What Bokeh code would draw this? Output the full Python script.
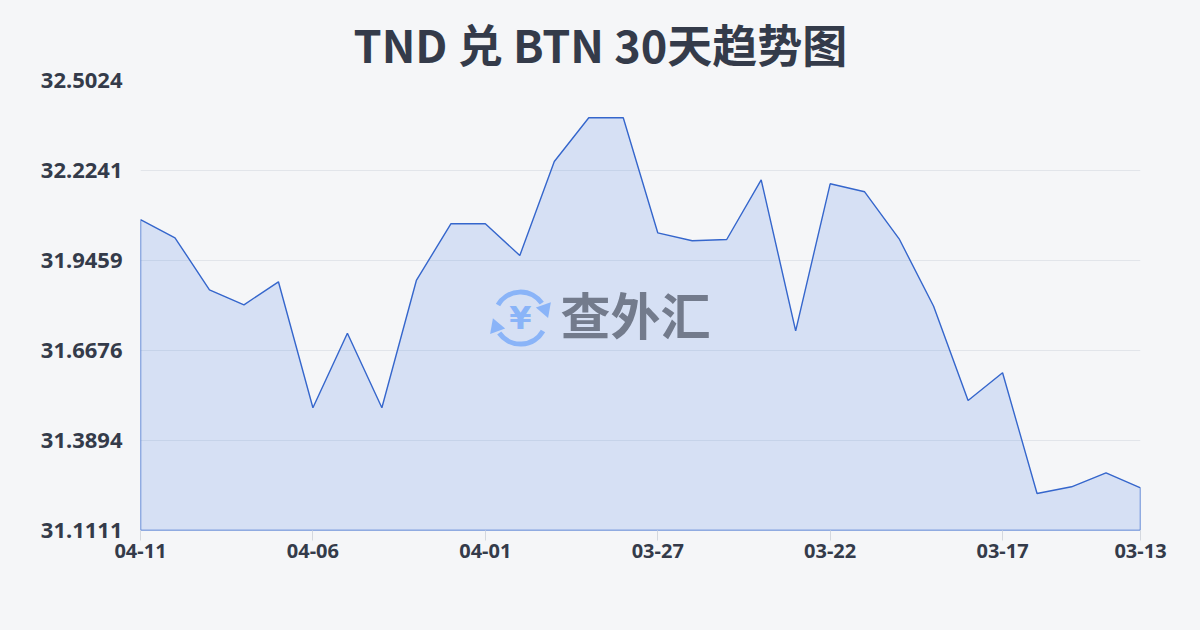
import math
from bokeh.plotting import figure
from bokeh.models import Range1d, FixedTicker, PrintfTickFormatter
from bokeh.core.properties import value
from bokeh.embed import file_html
from bokeh.resources import INLINE

# ---- data ----
dates = ["04-11", "04-10", "04-09", "04-08", "04-07", "04-06", "04-05", "04-04",
         "04-03", "04-02", "04-01", "03-31", "03-30", "03-29", "03-28", "03-27",
         "03-26", "03-25", "03-24", "03-23", "03-22", "03-21", "03-20", "03-19",
         "03-18", "03-17", "03-16", "03-15", "03-14", "03-13"]
rates = [32.0726, 32.0161, 31.8553, 31.8089, 31.8800, 31.4905, 31.7211, 31.4905,
         31.8841, 32.0594, 32.0594, 31.9613, 32.2520, 32.3871, 32.3871, 32.0315,
         32.0068, 32.0108, 32.1954, 31.7285, 32.1830, 32.1583, 32.0130, 31.8046,
         31.5130, 31.5987, 31.2255, 31.2462, 31.2895, 31.2431]
y_ticks = [31.1111, 31.3894, 31.6676, 31.9459, 32.2241, 32.5024]
x_tick_idx = [0, 5, 10, 15, 20, 25, 29]
title_text = "TND 兑 BTN 30天趋势图"
watermark = "查外汇"

BG = "#f5f6f8"
LINE = "#3566cc"
TEXT = "#343b4a"

n = len(rates)
xs = list(range(n))
y0, y1 = y_ticks[0], y_ticks[-1]

FW, FH = 1000, 450
p = figure(frame_width=FW, frame_height=FH,
           min_border_left=140, min_border_right=60,
           min_border_top=80, min_border_bottom=100,
           x_range=Range1d(0, n - 1), y_range=Range1d(y0, y1),
           output_backend="svg", toolbar_location=None,
           background_fill_color=BG, border_fill_color=BG,
           outline_line_color=None, title=title_text)

p.title.align = "left"
p.title.offset = 213
p.title.text_font = "Noto Sans CJK SC"
p.title.text_font_style = "bold"
p.title.text_font_size = "45px"
p.title.text_color = TEXT
p.title.standoff = 10

xr = (n - 1)
yr = (y1 - y0)
ppx = FW / xr          # pixels per x unit
ppy = FH / yr          # pixels per y unit

# area
p.patch(xs + [n - 1, 0], rates + [y0, y0], fill_color="#5b8ae6", fill_alpha=0.2,
        line_color=LINE, line_width=1.4)

# axes
p.xaxis.ticker = FixedTicker(ticks=x_tick_idx)
p.xaxis.major_label_overrides = {i: dates[i] for i in x_tick_idx}
p.xaxis.major_label_text_font = "Noto Sans"
p.xaxis.major_label_text_font_style = "bold"
p.xaxis.major_label_text_font_size = "20px"
p.xaxis.major_label_text_color = TEXT
p.xaxis.axis_line_color = None
p.xaxis.major_tick_line_color = "#d4d8df"
p.xaxis.major_tick_in = 0
p.xaxis.major_tick_out = 10
p.xaxis.minor_tick_line_color = None
p.xaxis.major_label_standoff = 3

p.yaxis.ticker = FixedTicker(ticks=y_ticks)
p.yaxis.formatter = PrintfTickFormatter(format="%.4f")
p.yaxis.major_label_text_font = "Noto Sans"
p.yaxis.major_label_text_font_style = "bold"
p.yaxis.major_label_text_font_size = "22px"
p.yaxis.major_label_text_color = TEXT
p.yaxis.axis_line_color = None
p.yaxis.major_tick_line_color = None
p.yaxis.minor_tick_line_color = None
p.yaxis.major_tick_out = 0
p.yaxis.major_label_standoff = 18

p.xgrid.grid_line_color = None
p.ygrid.grid_line_color = "#e2e5ea"
p.ygrid.grid_line_width = 1

# watermark (position as fraction of the frame)
icx = 0.380 * xr
icy = y0 + 0.472 * yr
R = 26
ICON = "#8ab4f8"
p.arc(x=[icx], y=[icy], radius=R, radius_units="screen",
      start_angle=math.radians(35), end_angle=math.radians(150),
      line_color=ICON, line_width=5)
p.arc(x=[icx], y=[icy], radius=R, radius_units="screen",
      start_angle=math.radians(215), end_angle=math.radians(330),
      line_color=ICON, line_width=5)
heads = [20, 200]
p.scatter(x=[icx + R * math.cos(math.radians(a)) / ppx for a in heads],
          y=[icy + R * math.sin(math.radians(a)) / ppy for a in heads],
          marker="triangle", size=16,
          angle=[math.radians(a - 180) for a in heads],
          fill_color=ICON, line_color=None)
p.text(x=[icx], y=[icy], text=["¥"], text_font=value("DejaVu Sans"),
       text_font_style="bold", text_font_size="32px", text_color=ICON,
       text_align="center", text_baseline="middle")
p.text(x=[0.42 * xr], y=[y0 + 0.484 * yr], text=[watermark],
       text_font=value("Noto Sans CJK SC"), text_font_style="bold",
       text_font_size="50px", text_color="#737b8c",
       text_align="left", text_baseline="middle")

html = file_html(p, INLINE)
html = html.replace("<head>", "<head><style>body{background:%s}</style>" % BG, 1)
open("out.html", "w").write(html)
